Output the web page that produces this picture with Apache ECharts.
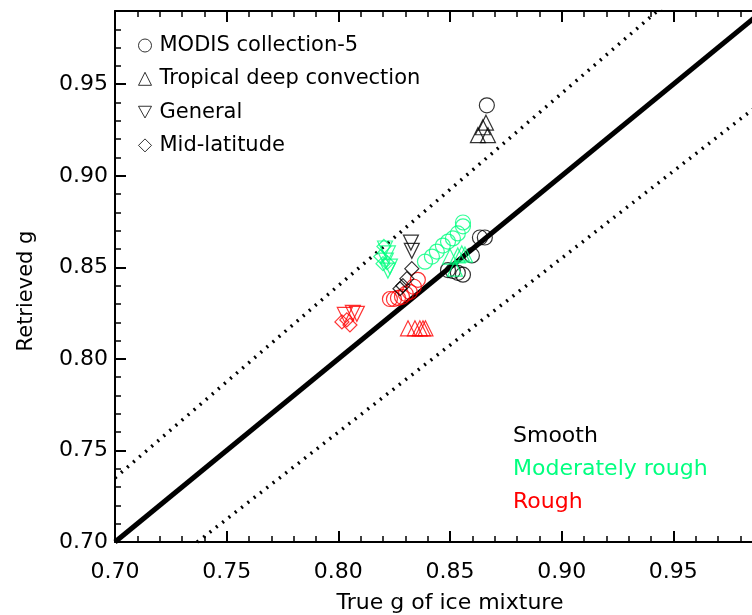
<!DOCTYPE html>
<html>
<head>
<meta charset="utf-8">
<script src="https://cdn.jsdelivr.net/npm/echarts@6/dist/echarts.min.js"></script>
<style>
  html, body { margin: 0; padding: 0; background: #fff; overflow: hidden; }
  /* the original plot runs a little past the right edge of the picture */
  #chart { width: 785px; height: 615px; }
</style>
</head>
<body>
<div id="chart"></div>
<script>
// tick labels
var xTicks = [0.70, 0.75, 0.80, 0.85, 0.90, 0.95];
var yTicks = [0.70, 0.75, 0.80, 0.85, 0.90, 0.95];
var legendNames = ['MODIS collection-5', 'Tropical deep convection', 'General', 'Mid-latitude'];
var roughNames = ['Smooth', 'Moderately rough', 'Rough'];
var roughColors = ['#000000', '#00ff7f', '#ff0000'];

// reference lines: 1:1 and +/-5 %
var lineRange = [0.70, 1.00];
var ratios = [1.05, 0.95];

// smooth (black)
var smoothCircle = [[0.8665, 0.9385], [0.8634, 0.8663], [0.8656, 0.8663], [0.8598, 0.8565],
  [0.8491, 0.8485], [0.8513, 0.8480], [0.8535, 0.8470], [0.8558, 0.8460]];
var smoothTri = [[0.8625, 0.9222], [0.8647, 0.9265], [0.8661, 0.9290], [0.8670, 0.9222]];
var smoothDown = [[0.8325, 0.8635], [0.8329, 0.8590]];
var smoothDiamond = [[0.8329, 0.8493], [0.8307, 0.8438], [0.8289, 0.8400], [0.8276, 0.8383]];

// moderately rough (green)
var modCircle = [[0.8388, 0.8531], [0.8419, 0.8559], [0.8441, 0.8586], [0.8468, 0.8619],
  [0.8491, 0.8641], [0.8513, 0.8658], [0.8535, 0.8685], [0.8558, 0.8724], [0.8558, 0.8745]];
var modTri = [[0.8500, 0.8559], [0.8535, 0.8565], [0.8553, 0.8576], [0.8567, 0.8570], [0.8522, 0.8493]];
var modDown = [[0.8209, 0.8603], [0.8222, 0.8576], [0.8213, 0.8537], [0.8231, 0.8504], [0.8222, 0.8482]];
var modDiamond = [[0.8190, 0.8559], [0.8218, 0.8526], [0.8204, 0.8614], [0.8200, 0.8520]];

// rough (red)
var roughCircle = [[0.8231, 0.8327], [0.8249, 0.8327], [0.8267, 0.8333], [0.8285, 0.8339],
  [0.8302, 0.8355], [0.8320, 0.8366], [0.8338, 0.8394], [0.8356, 0.8432]];
var roughTri = [[0.8312, 0.8167], [0.8343, 0.8167], [0.8365, 0.8167], [0.8379, 0.8167], [0.8390, 0.8167]];
var roughDown = [[0.8029, 0.8240], [0.8065, 0.8251], [0.8083, 0.8246]];
var roughDiamond = [[0.8016, 0.8202], [0.8038, 0.8213], [0.8052, 0.8185]];

var downPath = 'path://M0,0L2,0L1,1.8Z';
var shapes = ['circle', 'triangle', downPath, 'diamond'];
var groups = [
  [smoothCircle, modCircle, roughCircle],
  [smoothTri, modTri, roughTri],
  [smoothDown, modDown, roughDown],
  [smoothDiamond, modDiamond, roughDiamond]
];
var sizes = [15, 15, 15, 14];

var font = 'DejaVu Sans';
var gridLeft = 115, gridWidth = 670;

function colorPoints(sets) {
  var out = [];
  sets.forEach(function (pts, k) {
    pts.forEach(function (p) {
      out.push({ value: p, itemStyle: { borderColor: roughColors[k] } });
    });
  });
  return out;
}

var series = [];
// 1:1 line
series.push({
  name: 'one', type: 'line', symbol: 'none', silent: true,
  data: [[lineRange[0], lineRange[0]], [lineRange[1], lineRange[1]]],
  lineStyle: { color: '#000', width: 5 }, z: 1
});
ratios.forEach(function (r, i) {
  series.push({
    name: 'ratio' + i, type: 'line', symbol: 'none', silent: true,
    data: [[lineRange[0], lineRange[0] * r], [lineRange[1], lineRange[1] * r]],
    lineStyle: { color: '#000', width: 3.5, type: [2, 6] }, z: 1
  });
});
shapes.forEach(function (s, i) {
  series.push({
    name: legendNames[i], type: 'scatter', symbol: s, symbolSize: sizes[i],
    itemStyle: { color: 'rgba(0,0,0,0)', borderColor: '#000', borderWidth: 1.2 },
    data: colorPoints(groups[i]), z: 3
  });
});

var tickLine = { color: '#000', width: 2 };
var labelFn = function (list) {
  return function (v) { return list.indexOf(+v.toFixed(2)) >= 0 ? v.toFixed(2) : ''; };
};

var xBase = {
  type: 'value', min: 0.70, max: 1.00, interval: 0.05,
  axisLine: { lineStyle: { color: '#000', width: 2 } },
  axisTick: { inside: true, length: 11, lineStyle: tickLine },
  minorTick: { show: true, splitNumber: 5, length: 6, lineStyle: { color: '#000', width: 1.5 } },
  splitLine: { show: false },
  minorSplitLine: { show: false }
};

var chart = echarts.init(document.getElementById('chart'));
var option = {
  animation: false,
  backgroundColor: '#fff',
  grid: { left: gridLeft, width: gridWidth, top: 11, bottom: 73, outerBoundsMode: 'none', containLabel: false },
  legend: {
    orient: 'vertical', left: 138, top: 35, padding: 0,
    itemWidth: 13, itemHeight: 13, itemGap: 12.3,
    textStyle: { fontFamily: font, fontSize: 21, color: '#000', lineHeight: 21, padding: [0, 0, 0, 3] },
    data: legendNames.map(function (n, i) {
      return { name: n, icon: shapes[i],
        itemStyle: { color: 'rgba(0,0,0,0)', borderColor: '#000', borderWidth: 1 } };
    })
  },
  xAxis: [
    Object.assign({}, xBase, {
      position: 'bottom',
      name: 'True g of ice mixture', nameLocation: 'middle', nameGap: 50,
      nameTextStyle: { fontFamily: font, fontSize: 22, color: '#000' },
      axisLabel: { margin: 19, fontFamily: font, fontSize: 22, color: '#000',
        showMaxLabel: false, formatter: labelFn(xTicks) }
    }),
    Object.assign({}, xBase, {
      position: 'top', axisLabel: { show: false }
    })
  ],
  yAxis: [
    {
      type: 'value', min: 0.70, max: 0.99, interval: 0.05, position: 'left',
      axisLine: { lineStyle: { color: '#000', width: 2 } },
      axisTick: { inside: true, length: 11, lineStyle: tickLine },
      splitLine: { show: false },
      axisLabel: { margin: 7, fontFamily: font, fontSize: 22, color: '#000',
        showMaxLabel: false, formatter: labelFn(yTicks) }
    },
    {
      // minor ticks every 0.01 along the left axis
      type: 'value', min: 0.70, max: 0.99, interval: 0.01, position: 'right',
      offset: -gridWidth,
      axisLine: { show: false },
      axisTick: { inside: false, length: 6, lineStyle: { color: '#000', width: 1.5 } },
      splitLine: { show: false },
      axisLabel: { show: false }
    }
  ],
  graphic: [{
    type: 'text', x: 27, y: 291, rotation: Math.PI / 2,
    style: { text: 'Retrieved g', fill: '#000', font: '21px "' + font + '"',
      align: 'center', verticalAlign: 'middle' }
  }].concat(roughNames.map(function (n, i) {
    return {
      type: 'text', left: 513, top: 425 + i * 33,
      style: { text: n, fill: roughColors[i], font: '22px "' + font + '"' }
    };
  })),
  series: series
};
chart.setOption(option);
window.addEventListener('resize', function () {
  chart.resize();
});
</script>
</body>
</html>
